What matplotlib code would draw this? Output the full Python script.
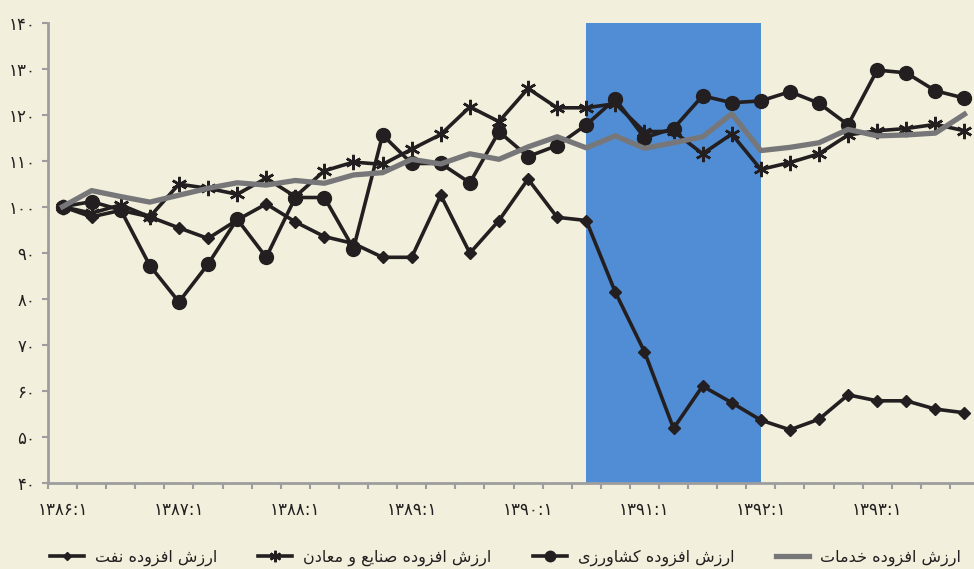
import numpy as np
import matplotlib
matplotlib.use("Agg")
import matplotlib.pyplot as plt

plt.rcParams['font.family'] = ['DejaVu Sans']
plt.rcParams['axes.unicode_minus'] = False

# data (index 1386:1 = 100), quarterly
quarters = [f"{y}:{q}" for y in range(1386, 1394) for q in range(1, 5)]
oil = [100, 97.8, 99.2, 97.8, 95.4, 93.1, 97.1, 100.6, 96.7, 93.5,
       92.0, 89.0, 89.0, 102.5, 89.9, 97.0, 106.0, 97.7, 97.0, 81.4,
       68.5, 51.8, 61.0, 57.4, 53.6, 51.5, 53.8, 59.1, 57.8, 57.8,
       56.0, 55.2]
industry = [100, 98.6, 100.4, 97.8, 104.9, 104.0, 102.7, 106.2, 102.2, 107.8,
            109.7, 109.2, 112.5, 115.7, 121.7, 118.5, 125.7, 121.5, 121.5, 122.4,
            116.3, 116.4, 111.5, 115.8, 108.1, 109.6, 111.5, 115.6, 116.5, 117.0,
            117.9, 116.5]
agri = [100, 101.1, 99.3, 87.2, 79.3, 87.5, 97.3, 89.0, 102.0, 102.0,
        90.9, 115.6, 109.4, 109.4, 105.2, 116.3, 110.9, 113.3, 117.8, 123.4,
        115.0, 117.0, 124.1, 122.6, 123.0, 125.0, 122.5, 117.8, 129.7, 129.1,
        125.2, 123.6]
services = [100, 103.5, 102.2, 101.0, 102.5, 104.0, 105.2, 104.7, 105.7, 105.1,
            106.9, 107.4, 110.3, 109.3, 111.5, 110.3, 113.0, 115.2, 112.8, 115.4,
            112.7, 113.9, 115.2, 120.2, 112.2, 112.9, 113.9, 116.8, 115.4, 115.6,
            116.0, 120.1]
labels = ["ارزش افزوده نفت", "ارزش افزوده صنایع و معادن",
          "ارزش افزوده کشاورزی", "ارزش افزوده خدمات"]
shade_from, shade_to = "1390:3", "1392:1"
yticks = list(range(40, 141, 10))

# simple arabic shaping (matplotlib has no complex text layout)
FORMS = {
    'ا': ('\uFE8D', '\uFE8E', None, None),
    'ر': ('\uFEAD', '\uFEAE', None, None),
    'ز': ('\uFEAF', '\uFEB0', None, None),
    'و': ('\uFEED', '\uFEEE', None, None),
    'د': ('\uFEA9', '\uFEAA', None, None),
    'ش': ('\uFEB5', '\uFEB6', '\uFEB7', '\uFEB8'),
    'ف': ('\uFED1', '\uFED2', '\uFED3', '\uFED4'),
    'ه': ('\uFEE9', '\uFEEA', '\uFEEB', '\uFEEC'),
    'ن': ('\uFEE5', '\uFEE6', '\uFEE7', '\uFEE8'),
    'ت': ('\uFE95', '\uFE96', '\uFE97', '\uFE98'),
    'ص': ('\uFEB9', '\uFEBA', '\uFEBB', '\uFEBC'),
    'ی': ('\uFBFC', '\uFBFD', '\uFBFE', '\uFBFF'),
    'ع': ('\uFEC9', '\uFECA', '\uFECB', '\uFECC'),
    'م': ('\uFEE1', '\uFEE2', '\uFEE3', '\uFEE4'),
    'خ': ('\uFEA5', '\uFEA6', '\uFEA7', '\uFEA8'),
    'ک': ('\uFB8E', '\uFB8F', '\uFB90', '\uFB91'),
}


def shape(s):
    out = []
    for i, c in enumerate(s):
        if c not in FORMS:
            out.append(c)
            continue
        prev = s[i - 1] if i > 0 else None
        nxt = s[i + 1] if i + 1 < len(s) else None
        jp = prev in FORMS and FORMS[prev][2] is not None
        jn = nxt in FORMS and FORMS[c][2] is not None
        iso, fin, ini, med = FORMS[c]
        if jp and jn:
            out.append(med)
        elif jp:
            out.append(fin)
        elif jn:
            out.append(ini)
        else:
            out.append(iso)
    return ''.join(reversed(out))


def fa_digits(s):
    return s.translate(str.maketrans('0123456789', '۰۱۲۳۴۵۶۷۸۹'))


BG = '#f2f0dc'
INK = '#231f20'
GREY = '#77777a'
AXC = '#9d9d9f'

fig = plt.figure(figsize=(9.74, 5.69), dpi=100, facecolor=BG)
ax = fig.add_axes([48 / 974, 86.3 / 569, 931 / 974, 460 / 569])
ax.set_facecolor(BG)

x = np.arange(len(quarters))
ax.axvspan(quarters.index(shade_from), quarters.index(shade_to),
           color='#518dd4', zorder=0, lw=0)

ax.plot(x, oil, color=INK, lw=2.6, marker='D', ms=6, label=shape(labels[0]), zorder=3)
ax.plot(x, industry, color=INK, lw=2.6, marker=(6, 2, 0), ms=11, mew=1.8,
        label=shape(labels[1]), zorder=3)
ax.plot(x, agri, color=INK, lw=2.6, marker='o', ms=10, label=shape(labels[2]), zorder=3)
ax.plot(x, services, color=GREY, lw=3.8, label=shape(labels[3]), zorder=4)

ax.set_xlim(-0.5, len(quarters) - 0.5)
ax.set_ylim(40, 140)

for s in ['top', 'right']:
    ax.spines[s].set_visible(False)
for s in ['left', 'bottom']:
    ax.spines[s].set_color(AXC)
    ax.spines[s].set_linewidth(2)

ax.set_yticks(yticks)
ax.set_yticklabels([fa_digits(str(v)) for v in yticks])
ax.tick_params(axis='y', length=4, width=1.5, color=AXC, pad=5,
               labelsize=12, labelcolor=INK)

# ticks at quarter boundaries, labels under every 4th quarter
ax.set_xticks(np.arange(-0.5, len(quarters), 1))
ax.set_xticklabels([])
ax.tick_params(axis='x', which='major', length=4.5, width=1.5, color=AXC)
lab_pos = [i for i, q in enumerate(quarters) if q.endswith(':1')]
ax.set_xticks(lab_pos, minor=True)
ax.set_xticklabels([fa_digits(quarters[i]) for i in lab_pos], minor=True)
ax.tick_params(axis='x', which='minor', length=0, pad=13, labelsize=12,
               labelcolor=INK)

leg = fig.legend(loc='center left', bbox_to_anchor=(42 / 974, 11 / 569), ncol=4,
                 frameon=False, fontsize=11.5, handlelength=2.1, handletextpad=0.7,
                 columnspacing=2.6, borderpad=0, markerscale=0.75, labelcolor=INK)

fig.savefig('out.png', dpi=100, facecolor=BG)
